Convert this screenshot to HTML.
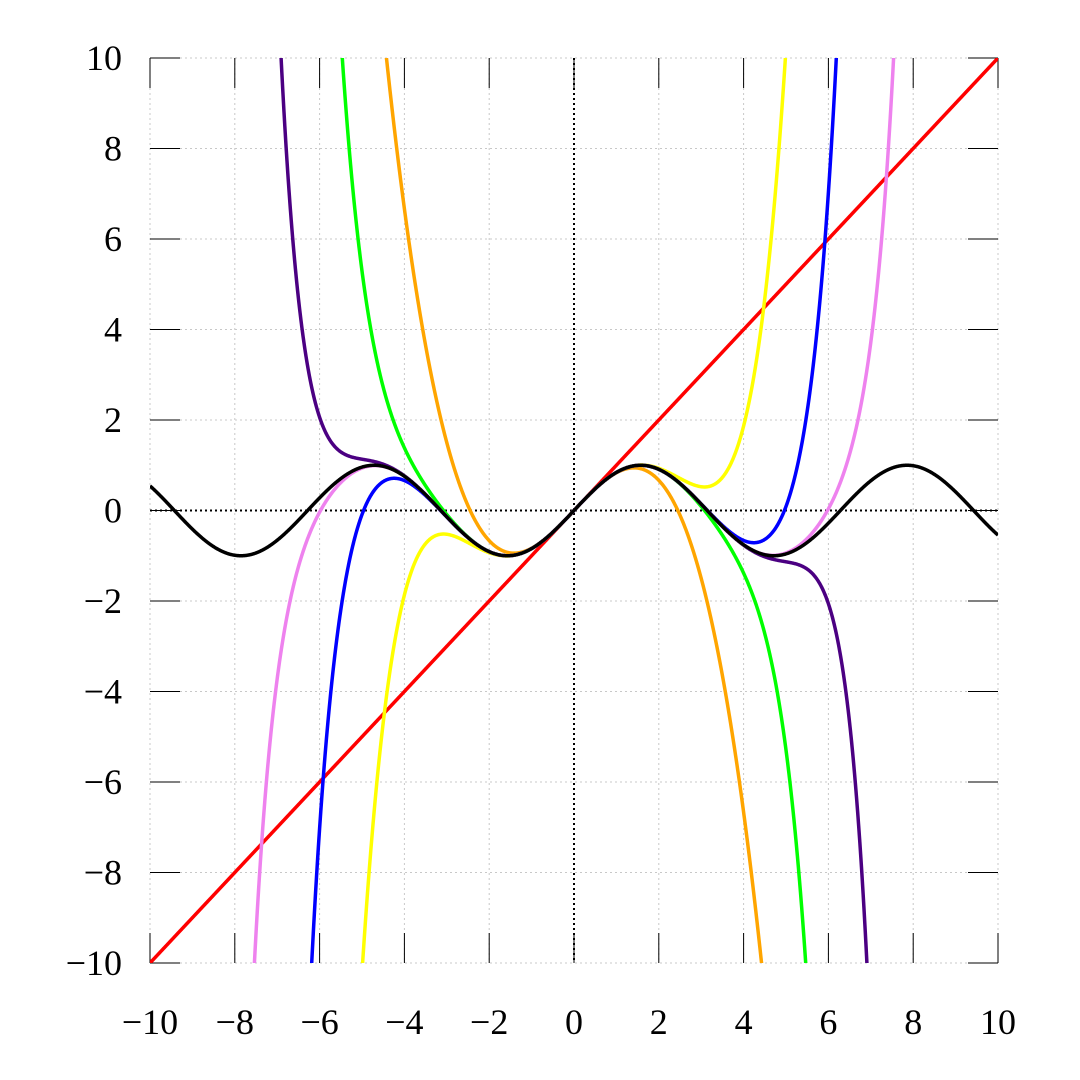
<!DOCTYPE html>
<html><head><meta charset="utf-8"><style>
html,body{margin:0;background:#fff;overflow:hidden;width:1080px;height:1080px}
svg{display:block}
svg text{font-family:"Liberation Serif",serif;font-size:36px;fill:#000}
</style></head><body>
<svg id="chart" width="1080" height="1080">
<defs><clipPath id="clip"><rect x="150" y="58" width="848" height="905"/></clipPath></defs>
<g id="grid"></g>
<g id="ticks"></g>
<g id="series" clip-path="url(#clip)"></g>
<g id="labels"></g>
</svg>
<script>
const xTicks=[-10,-8,-6,-4,-2,0,2,4,6,8,10];
const yTicks=[-10,-8,-6,-4,-2,0,2,4,6,8,10];
const tickLabels=["\u221210","\u22128","\u22126","\u22124","\u22122","0","2","4","6","8","10"];
// odd-power coefficients: c0*x + c1*x^3 + c2*x^5 ...
const deg1=[1];
const deg3=[1,-1/6];
const deg5=[1,-1/6,1/120];
const deg7=[1,-1/6,1/120,-1/5040];
const deg9=[1,-1/6,1/120,-1/5040,1/362880];
const deg11=[1,-1/6,1/120,-1/5040,1/362880,-1/39916800];
const deg13=[1,-1/6,1/120,-1/5040,1/362880,-1/39916800,1/6227020800];
const seriesList=[[deg1,"#ff0000","degree-1"],[deg5,"#ffff00","degree-5"],[deg3,"#ffa500","degree-3"],[deg7,"#00ff00","degree-7"],[deg9,"#0000ff","degree-9"],[deg11,"#4b0082","degree-11"],[deg13,"#ee82ee","degree-13"]];
const L=150,R=998,T=58,B=963;
const sx=v=>L+(v+10)/20*(R-L), sy=v=>B-(v+10)/20*(B-T);
const NS="http://www.w3.org/2000/svg";
function mk(tag,attrs,parent){const e=document.createElementNS(NS,tag);for(const k in attrs)e.setAttribute(k,attrs[k]);parent.appendChild(e);return e;}
const grid=document.getElementById('grid'),ticks=document.getElementById('ticks'),ser=document.getElementById('series'),lab=document.getElementById('labels');
xTicks.forEach((v,i)=>{
 const g=mk('line',{x1:sx(v),x2:sx(v),y1:T,y2:B,stroke:'#c8c8c8','stroke-width':1,'stroke-dasharray':'2,3'},grid);
 
 const t1=mk('line',{x1:sx(v),x2:sx(v),y1:T,y2:T+30,stroke:'#000','stroke-width':1},ticks);
 
 const t2=mk('line',{x1:sx(v),x2:sx(v),y1:B-30,y2:B,stroke:'#000','stroke-width':1},ticks);
 
 const tx=mk('text',{x:sx(v),y:1034,'text-anchor':'middle'},lab);tx.textContent=tickLabels[i];
 
});
yTicks.forEach((v,i)=>{
 const g=mk('line',{x1:L,x2:R,y1:sy(v),y2:sy(v),stroke:'#c8c8c8','stroke-width':1,'stroke-dasharray':'2,3'},grid);
 
 const t1=mk('line',{x1:L,x2:L+30,y1:sy(v),y2:sy(v),stroke:'#000','stroke-width':1},ticks);
 
 const t2=mk('line',{x1:R-30,x2:R,y1:sy(v),y2:sy(v),stroke:'#000','stroke-width':1},ticks);
 
 const tx=mk('text',{x:122,y:sy(v)+12,'text-anchor':'end'},lab);tx.textContent=tickLabels[i];
 
});
const ax=mk('line',{x1:L,x2:R,y1:sy(0),y2:sy(0),stroke:'#000','stroke-width':2,'stroke-dasharray':'2,3'},ticks);

const ay=mk('line',{x1:sx(0),x2:sx(0),y1:T,y2:B,stroke:'#000','stroke-width':2,'stroke-dasharray':'2,3'},ticks);

function poly(c,x){let s=0;for(let k=0;k<c.length;k++)s+=c[k]*Math.pow(x,2*k+1);return s;}
function path(f){let d='';for(let i=0;i<=2000;i++){const x=-10+i*0.01;let y=f(x);y=Math.max(-60,Math.min(60,y));d+=(i?'L':'M')+sx(x).toFixed(2)+','+sy(y).toFixed(2);}return d;}
seriesList.forEach(s=>{
 const p=mk('path',{d:path(x=>poly(s[0],x)),fill:'none',stroke:s[1],'stroke-width':3.5},ser);
 
});
const sp=mk('path',{d:path(x=>Math.sin(x)),fill:'none',stroke:'#000','stroke-width':3.5},ser);

</script>
</body></html>
